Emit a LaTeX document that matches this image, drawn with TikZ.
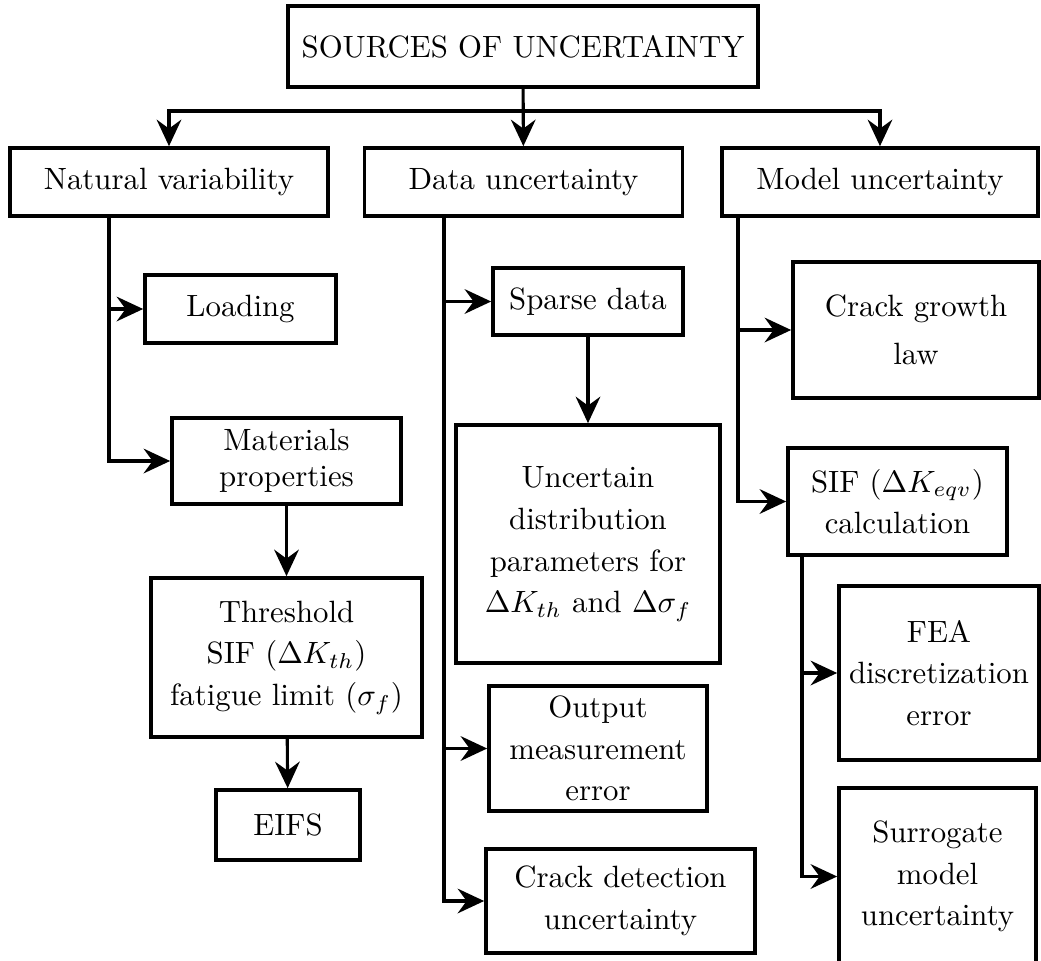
\documentclass[tikz,border=0pt]{standalone}
\usetikzlibrary{arrows.meta}
\newcommand{\pxu}{0.3247pt}
\begin{document}
\begin{tikzpicture}[x=\pxu,y=-\pxu,line width=1pt,>={Stealth[length=8.6pt,width=8pt,inset=2.9pt]}]
	\tikzset{blk/.style 2 args={draw,line width=1.2pt,align=center,inner sep=0pt,minimum width=#1*\pxu,minimum height=#2*\pxu,font=\linespread{1.13}\selectfont}}
	\useasboundingbox (0,0) rectangle (1041,961);
	\node[blk={470}{81}] (title) at (523,46.5) {SOURCES OF UNCERTAINTY};
	\node[blk={318}{68}] (natvar) at (169,182) {Natural variability};
	\node[blk={318}{68}] (data) at (523.5,182) {Data uncertainty};
	\node[blk={316}{68}] (model) at (880,182) {Model uncertainty};
	\node[blk={191}{68}] (loading) at (240.5,309) {Loading};
	\node[blk={229}{86}] (mater) at (286.5,461) {Materials\\[-2pt]properties};
	\node[blk={271}{159}] (thresh) at (286.5,657.5) {Threshold\\SIF ($\Delta K_{th}$)\\fatigue limit ($\sigma_f$)};
	\node[blk={144}{70}] (eifs) at (288,825) {EIFS};
	\node[blk={190}{67}] (sparse) at (588,301.5) {Sparse data};
	\node[blk={264}{238}] (uncert) at (588,544) {Uncertain\\distribution\\parameters for\\$\Delta K_{th}$ and $\Delta\sigma_f$};
	\node[blk={218}{125}] (output) at (598,748.5) {Output\\measurement\\error};
	\node[blk={269}{104}] (crackdet) at (620.5,901) {Crack detection\\uncertainty};
	\node[blk={246}{136}] (growth) at (916,330) {Crack growth\\[2pt]law};
	\node[blk={219}{107}] (sif) at (897.5,501.5) {SIF ($\Delta K_{eqv}$)\\calculation};
	\node[blk={200}{174}] (fea) at (939,673) {FEA\\discretization\\error};
	\node[blk={197}{177}] (surr) at (937.5,876.5) {Surrogate\\model\\uncertainty};
	\coordinate (bus) at (523,111);
	\coordinate (nv) at (109,0);
	\coordinate (du) at (444,0);
	\coordinate (mu) at (738,0);
	\coordinate (sc) at (802,0);
	\draw[->] (title) -- (data);
	\draw[->] (bus) -| (natvar);
	\draw[->] (bus) -| (model);
	\draw[->] (natvar.south -| nv) |- (loading);
	\draw[->] (natvar.south -| nv) |- (mater);
	\draw[->] (mater) -- (thresh);
	\draw[->] (thresh) -- (eifs);
	\draw[->] (data.south -| du) |- (sparse);
	\draw[->] (data.south -| du) |- (output);
	\draw[->] (data.south -| du) |- (crackdet);
	\draw[->] (sparse) -- (uncert);
	\draw[->] (model.south -| mu) |- (growth);
	\draw[->] (model.south -| mu) |- (sif);
	\draw[->] (sif.south -| sc) |- (fea);
	\draw[->] (sif.south -| sc) |- (surr);
\end{tikzpicture}
\end{document}
